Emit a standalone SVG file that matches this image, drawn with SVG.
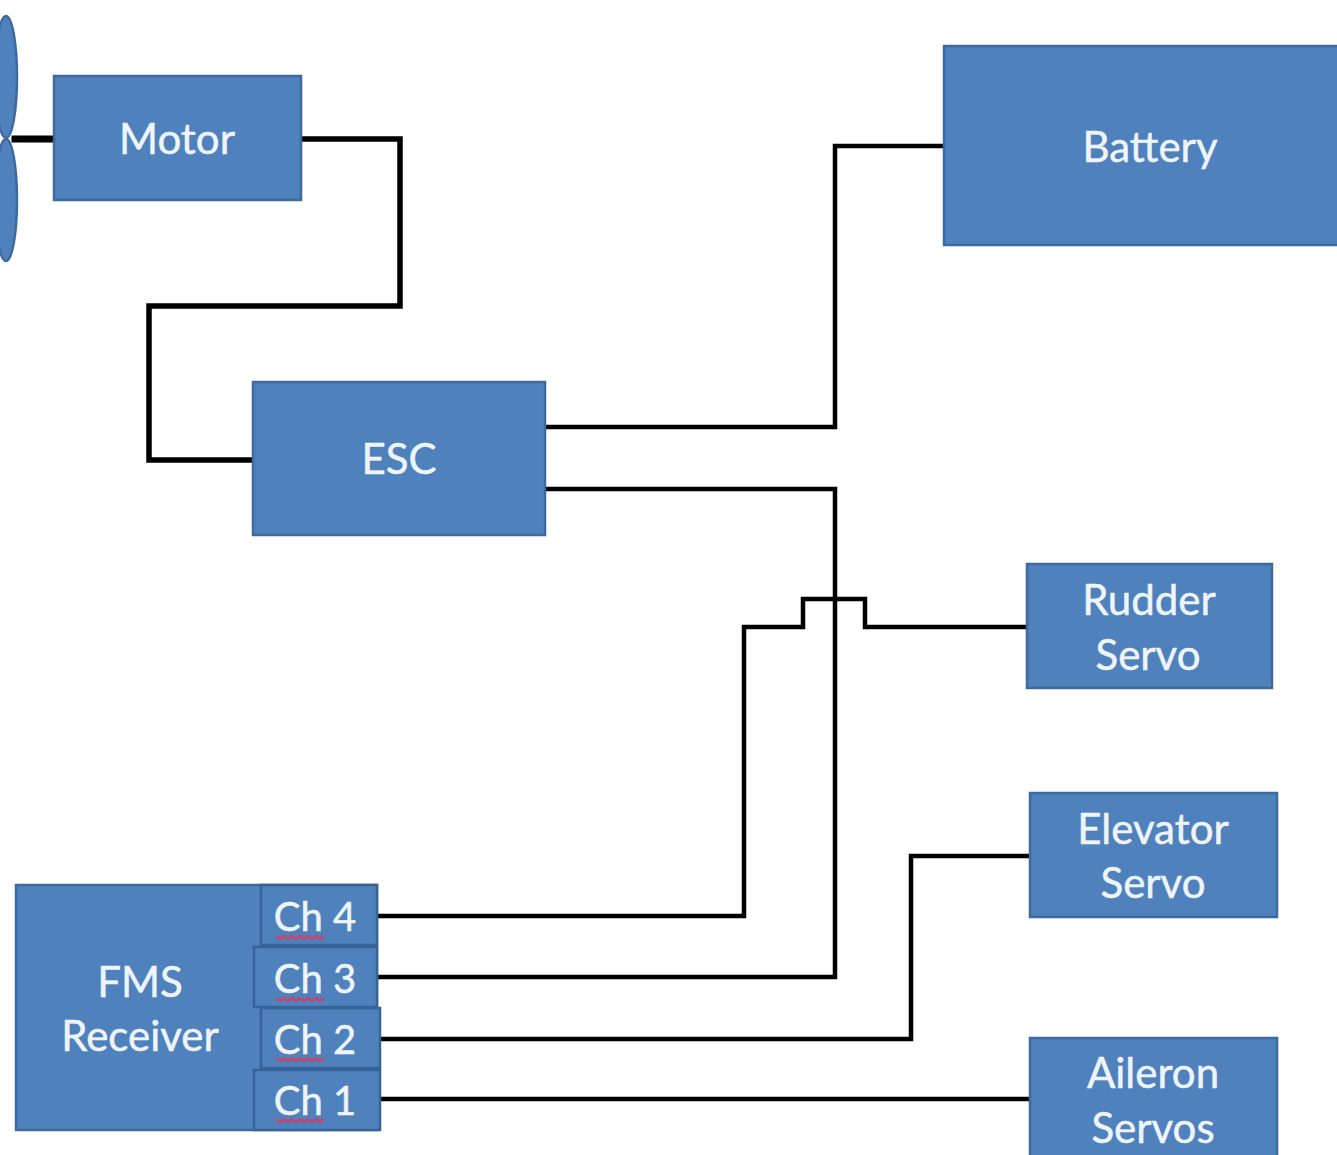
<svg xmlns="http://www.w3.org/2000/svg" width="1337" height="1155" viewBox="0 0 1337 1155">
<style>
.b{fill:#4f81bd;stroke:#3d6a9e;stroke-width:2.5}
.c{fill:#4f81bd;stroke:#376496;stroke-width:2.5}
.t{font-family:Lato,"Liberation Sans",sans-serif;font-size:42px;fill:#eef4fa;stroke:#eef4fa;stroke-width:.5;text-anchor:middle}
.h{font-size:40px}
.w{fill:none;stroke:#000;stroke-linejoin:miter;stroke-linecap:square}
.s{fill:none;stroke:#c8446a;stroke-width:2.5}
</style>
<rect width="1337" height="1155" fill="#fff"/>
<g id="connectors">
<path class="w" stroke-width="7" d="M15 139H54"/>
<path class="w" stroke-width="5.5" d="M301 139H400V306H149V460H253"/>
<path class="w" stroke-width="4.5" d="M545 427H835V146H944"/>
<path class="w" stroke-width="4.5" d="M545 489H835V977H377"/>
<path class="w" stroke-width="4.5" d="M377 916H744V627H803V599H865V627H1027"/>
<path class="w" stroke-width="4.5" d="M380 1039H911V856H1030"/>
<path class="w" stroke-width="4.5" d="M380 1099H1030"/>
</g>
<g id="propeller">
<ellipse class="b" cx="6" cy="77" rx="11" ry="61"/>
<ellipse class="b" cx="6" cy="200" rx="11" ry="61"/>
</g>
<g id="motor"><rect class="b" x="54" y="76" width="247" height="124"/><text class="t" x="177" y="154">Motor</text></g>
<g id="battery"><rect class="b" x="944" y="46" width="395" height="199"/><text class="t" x="1150" y="162">Battery</text></g>
<g id="esc"><rect class="b" x="253" y="382" width="292" height="153"/><text class="t" x="399" y="474">ESC</text></g>
<g id="rudder"><rect class="b" x="1027" y="564" width="245" height="124"/><text class="t" x="1149" y="615">Rudder</text><text class="t" x="1148" y="670">Servo</text></g>
<g id="elevator"><rect class="b" x="1030" y="793" width="247" height="124"/><text class="t" x="1153" y="844">Elevator</text><text class="t" x="1153" y="898">Servo</text></g>
<g id="aileron"><rect class="b" x="1030" y="1038" width="247" height="124"/><text class="t" x="1153" y="1088">Aileron</text><text class="t" x="1153" y="1143">Servos</text></g>
<g id="receiver"><rect class="b" x="16" y="885" width="361" height="245"/><text class="t" x="140" y="997">FMS</text><text class="t" x="140" y="1051">Receiver</text></g>
<g id="ch4"><rect class="c" x="261" y="885" width="116" height="60"/><text class="t h" x="315" y="931">Ch 4</text><path class="s" d="M276 936l4 3 4-3 4 3 4-3 4 3 4-3 4 3 4-3 4 3 4-3 4 3 4-3"/></g>
<g id="ch3"><rect class="c" x="254" y="947" width="123" height="60"/><text class="t h" x="315" y="993">Ch 3</text><path class="s" d="M276 998l4 3 4-3 4 3 4-3 4 3 4-3 4 3 4-3 4 3 4-3 4 3 4-3"/></g>
<g id="ch2"><rect class="c" x="261" y="1008" width="119" height="60"/><text class="t h" x="315" y="1054">Ch 2</text><path class="s" d="M276 1058l4 3 4-3 4 3 4-3 4 3 4-3 4 3 4-3 4 3 4-3 4 3 4-3"/></g>
<g id="ch1"><rect class="c" x="254" y="1070" width="126" height="60"/><text class="t h" x="315" y="1115">Ch 1</text><path class="s" d="M276 1119l4 3 4-3 4 3 4-3 4 3 4-3 4 3 4-3 4 3 4-3 4 3 4-3"/></g>
</svg>
